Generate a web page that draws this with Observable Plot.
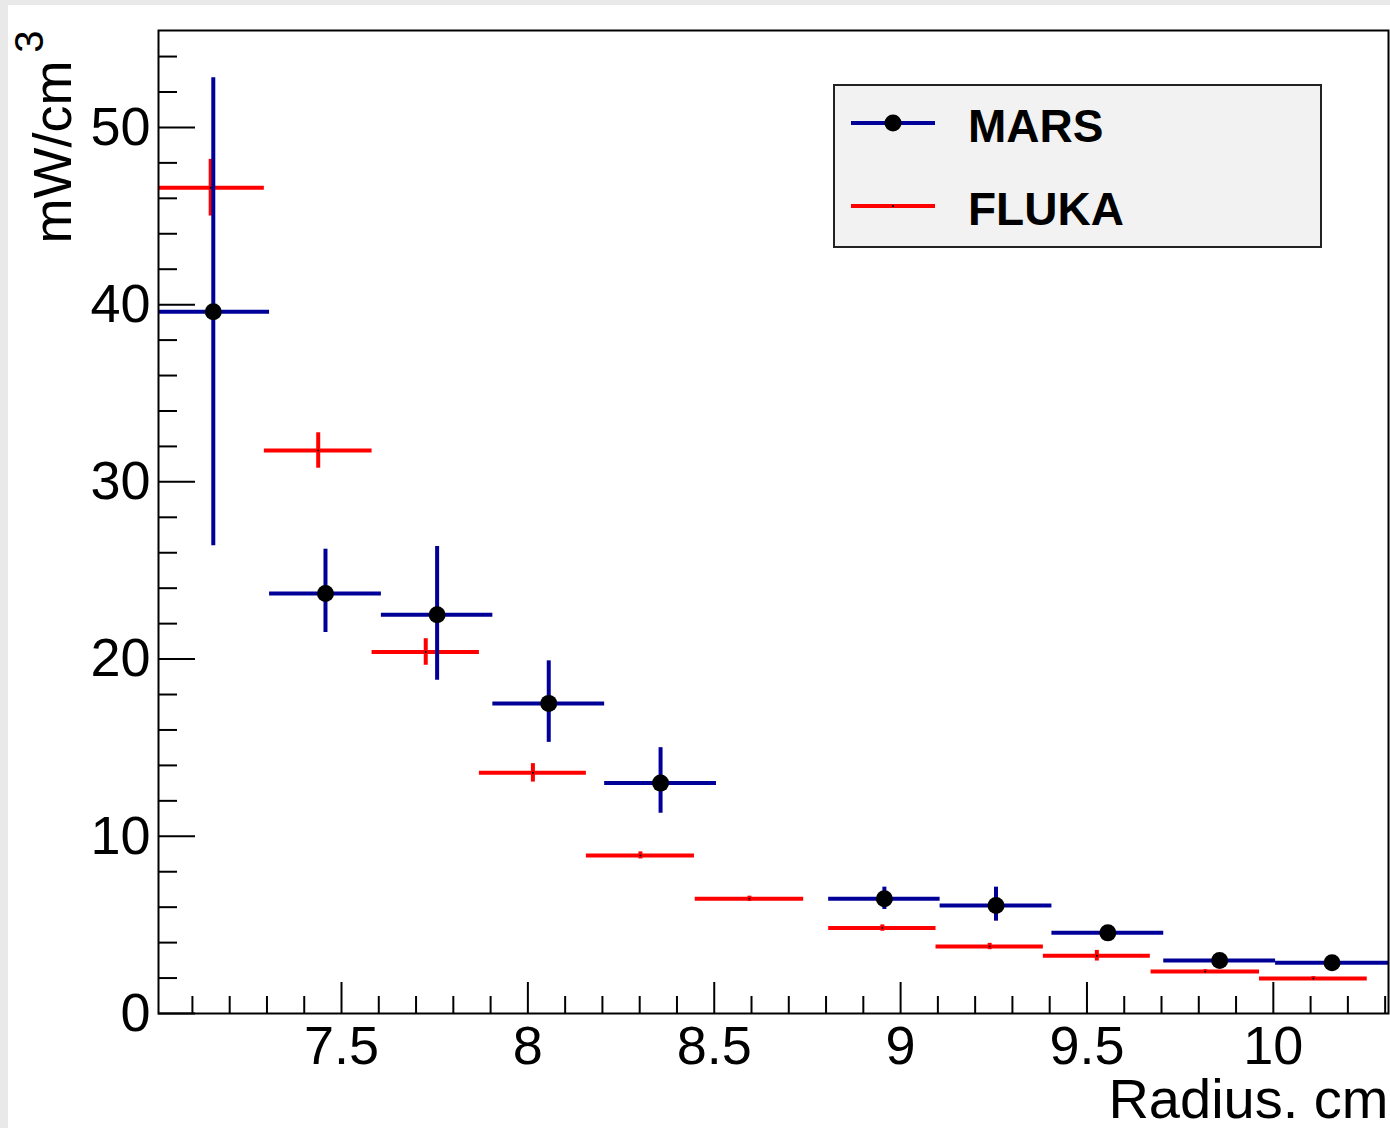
<!DOCTYPE html>
<html>
<head>
<meta charset="utf-8">
<script src="https://cdn.jsdelivr.net/npm/d3@7"></script>
<script src="https://cdn.jsdelivr.net/npm/@observablehq/plot@0.6"></script>
<style>
  html, body { margin: 0; padding: 0; }
  body { width: 1390px; height: 1128px; background: #e9e9e9; position: relative; overflow: hidden; font-family: "Liberation Sans", Arial, sans-serif; }
  #canvas { position: absolute; left: 8px; top: 5px; width: 1382px; height: 1123px; background: #ffffff; }
  #chart { position: absolute; left: 0; top: 0; }
  #legend { position: absolute; left: 833px; top: 84px; width: 485px; height: 160px; border: 2px solid #222; background: #f2f2f2; }
</style>
</head>
<body>
<div id="canvas"></div>
<div id="chart"></div>
<div id="legend"></div>
<script>
// ---- data ----
const marsX1 = [7.009, 7.307, 7.607, 7.906, 8.206, 8.807, 9.106, 9.406, 9.706, 10.006];
const marsX2 = [7.307, 7.607, 7.906, 8.206, 8.506, 9.106, 9.406, 9.706, 10.006, 10.309];
const marsY = [39.6, 23.7, 22.5, 17.5, 13.0, 6.47, 6.09, 4.55, 2.99, 2.86];
const marsLo = [26.4, 21.5, 18.8, 15.3, 11.3, 5.87, 5.21, 4.3, 2.85, 2.72];
const marsHi = [52.8, 26.2, 26.35, 19.9, 15.0, 7.13, 7.13, 4.8, 3.13, 3.0];

const flukaX1 = [7.009, 7.293, 7.582, 7.870, 8.157, 8.449, 8.807, 9.095, 9.383, 9.672, 9.963];
const flukaX2 = [7.293, 7.582, 7.870, 8.157, 8.447, 8.740, 9.095, 9.383, 9.670, 9.963, 10.252];
const flukaY = [46.6, 31.77, 20.4, 13.58, 8.92, 6.47, 4.82, 3.78, 3.26, 2.37, 1.98];
const flukaErr = [1.6, 1.0, 0.75, 0.52, 0.2, 0.15, 0.18, 0.18, 0.3, 0.1, 0.1];

const xMajor = [7.5, 8, 8.5, 9, 9.5, 10];
const xMinor = [7.1, 7.2, 7.3, 7.4, 7.6, 7.7, 7.8, 7.9, 8.1, 8.2, 8.3, 8.4, 8.6, 8.7, 8.8, 8.9, 9.1, 9.2, 9.3, 9.4, 9.6, 9.7, 9.8, 9.9, 10.1, 10.2, 10.3];
const yMajor = [0, 10, 20, 30, 40, 50];
const yMinor = [2, 4, 6, 8, 12, 14, 16, 18, 22, 24, 26, 28, 32, 34, 36, 38, 42, 44, 46, 48, 52, 54];

const xTitle = "Radius. cm";
const yTitle = "mW/cm";
const yTitleSup = "3";
const seriesNames = ["MARS", "FLUKA"];
const colMars = "#000099";
const colFluka = "#ff0000";

const mars = marsY.map((y, i) => ({x1: marsX1[i], x2: marsX2[i], xc: (marsX1[i] + marsX2[i]) / 2, y, lo: marsLo[i], hi: marsHi[i]}));
// first MARS bin is clipped by the frame; its centre sits at 7.156
mars[0].xc = 7.156;
const fluka = flukaY.map((y, i) => ({x1: flukaX1[i], x2: flukaX2[i], xc: (flukaX1[i] + flukaX2[i]) / 2, y, lo: y - flukaErr[i], hi: y + flukaErr[i]}));
fluka[0].xc = 7.149;

const chart = Plot.plot({
  width: 1390,
  height: 1128,
  marginLeft: 158,
  marginRight: 2,
  marginTop: 30,
  marginBottom: 115,
  style: {background: "transparent", fontFamily: "'Liberation Sans', Arial, sans-serif", color: "#000"},
  x: {domain: [7.009, 10.309]},
  y: {domain: [0, 55.47]},
  marks: [
    // FLUKA
    Plot.ruleY(fluka, {x1: "x1", x2: "x2", y: "y", stroke: colFluka, strokeWidth: 4}),
    Plot.ruleX(fluka, {x: "xc", y1: "lo", y2: "hi", stroke: colFluka, strokeWidth: 4}),
    Plot.dot(fluka, {x: "xc", y: "y", r: 1, fill: "#000"}),
    // MARS
    Plot.ruleY(mars, {x1: "x1", x2: "x2", y: "y", stroke: colMars, strokeWidth: 4}),
    Plot.ruleX(mars, {x: "xc", y1: "lo", y2: "hi", stroke: colMars, strokeWidth: 4}),
    Plot.dot(mars, {x: "xc", y: "y", r: 8.5, fill: "#000"}),
    // axes: labels
    Plot.axisX({ticks: xMajor, tickSize: 0, tickPadding: 12, fontSize: 54, tickFormat: d => String(d)}),
    Plot.axisY({ticks: yMajor, tickSize: 0, tickPadding: 8, fontSize: 54, tickFormat: d => String(d)}),
    // axes: inward ticks
    Plot.axisX({ticks: xMajor, tickSize: -31, text: null, strokeWidth: 2, label: null}),
    Plot.axisX({ticks: xMinor, tickSize: -17, text: null, strokeWidth: 2, label: null}),
    Plot.axisY({ticks: yMajor, tickSize: -37, text: null, strokeWidth: 2, label: null}),
    Plot.axisY({ticks: yMinor, tickSize: -19, text: null, strokeWidth: 2, label: null}),
    Plot.frame({stroke: "#000", strokeWidth: 2}),
    // axis titles
    Plot.text([xTitle], {frameAnchor: "bottom-right", textAnchor: "end", lineAnchor: "bottom", dy: 104, dx: 0, fontSize: 56}),
    Plot.text([yTitle], {frameAnchor: "top-left", rotate: -90, textAnchor: "end", lineAnchor: "bottom", dx: -88, dy: 30, fontSize: 54}),
    Plot.text([yTitleSup], {frameAnchor: "top-left", rotate: -90, textAnchor: "end", lineAnchor: "bottom", dx: -116, dy: 0, fontSize: 40})
  ]
});
document.getElementById("chart").appendChild(chart);

// legend
const lg = d3.select("#legend").append("svg").attr("width", 485).attr("height", 160);
const legendRows = [
  {name: seriesNames[0], color: colMars, dotR: 8.5, y: 37},
  {name: seriesNames[1], color: colFluka, dotR: 1, y: 120}
];
for (const r of legendRows) {
  lg.append("line").attr("x1", 16).attr("x2", 100).attr("y1", r.y).attr("y2", r.y).attr("stroke", r.color).attr("stroke-width", 4);
  lg.append("circle").attr("cx", 58).attr("cy", r.y).attr("r", r.dotR).attr("fill", "#000");
  lg.append("text").attr("x", 133).attr("y", r.y + 19).attr("font-family", "'Liberation Sans', Arial, sans-serif").attr("font-weight", "bold").attr("font-size", 46).text(r.name);
}
</script>
</body>
</html>
